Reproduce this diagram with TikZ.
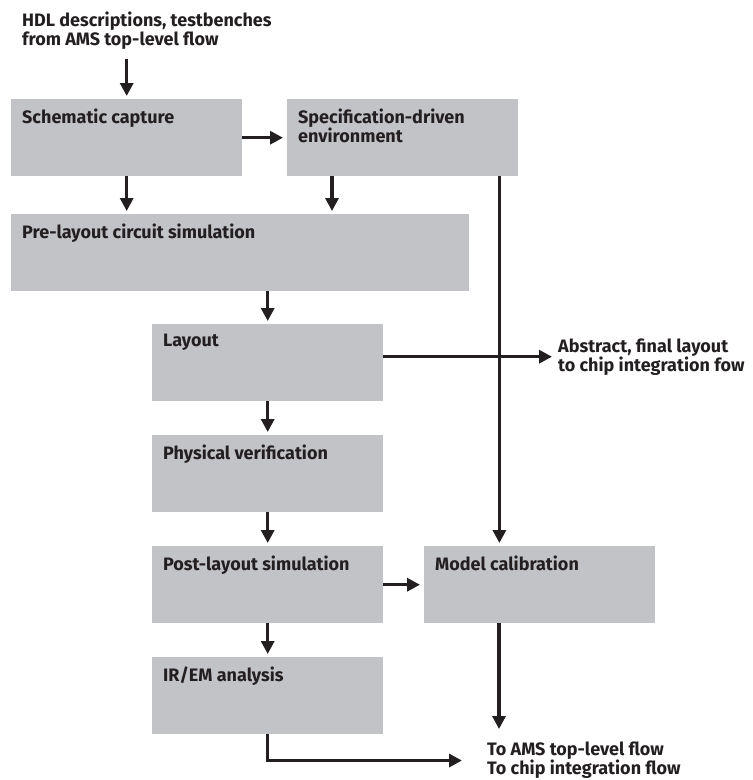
\documentclass[tikz,border=0pt]{standalone}
\usepackage{fontspec}
\setmainfont{Fira Sans}
\usetikzlibrary{arrows.meta, positioning}
\definecolor{boxgray}{RGB}{194,195,199}
\definecolor{ink}{RGB}{35,31,32}

\begin{document}
\begin{tikzpicture}[
    x=1pt, y=-1pt,
    font=\fontsize{18}{19}\selectfont\bfseries,
    text=ink,
    box/.style={fill=boxgray, anchor=north west, inner sep=0pt,
                minimum width=231pt, minimum height=77pt},
    boxtext/.style={anchor=north west, inner sep=0pt, align=left,
                    xshift=11pt, yshift=-10pt},
    note/.style={anchor=north west, inner sep=0pt, align=left},
    arr/.style={-{Triangle[length=13pt, width=13pt]}, line width=3.2pt,
                draw=ink, shorten >=3pt}]
    \useasboundingbox (0,0) rectangle (753,780);
    \node[note] (hdl) at (22,12) {HDL descriptions, testbenches\\from AMS top-level flow};
    \node[box, label={[boxtext]north west:Schematic capture}] (schem) at (11,99) {};
    \node[box, label={[boxtext]north west:Specification-driven\\environment}] (spec) at (287,99) {};
    \node[box, minimum width=458pt, label={[boxtext]north west:Pre-layout circuit simulation}] (pre) at (11,214) {};
    \node[box, label={[boxtext]north west:Layout}] (layout) at (152,324) {};
    \node[box, label={[boxtext]north west:Physical verification}] (phys) at (152,435) {};
    \node[box, label={[boxtext]north west:Post-layout simulation}] (post) at (152,546) {};
    \node[box, label={[boxtext]north west:IR/EM analysis}] (irem) at (152,657) {};
    \node[box, label={[boxtext]north west:Model calibration}] (model) at (424,546) {};
    \node[note] (abstract) at (558,339) {Abstract, final layout\\to chip integration fow};
    \node[note] (toams) at (487,742) {To AMS top-level flow\\To chip integration flow};
    \coordinate (specL) at ([xshift=45pt]spec.south west);
    \coordinate (specR) at ([xshift=-19pt]spec.south east);
    \coordinate (layoutR) at ([yshift=6pt]layout.east);
    \coordinate (modelL) at ([xshift=75pt]model.south west);
    \draw[arr, shorten <=9pt] (hdl.south -| schem.north) -- (schem.north);
    \draw[arr, shorten >=4pt] (schem.east) -- (spec.west);
    \draw[arr] (schem.south) -- (schem.south |- pre.north);
    \draw[arr] (specL) -- (specL |- pre.north);
    \draw[arr] (specR) -- (specR |- model.north);
    \draw[arr] (pre.south -| layout.north) -- (layout.north);
    \draw[arr] (layout) -- (phys);
    \draw[arr] (phys) -- (post);
    \draw[arr] (post) -- (irem);
    \draw[arr, shorten >=6pt] (layoutR) -- (layoutR -| abstract.west);
    \draw[arr, shorten >=4pt] (post.east) -- (post.east -| model.west);
    \draw[arr, shorten >=13pt] (modelL) -- (modelL |- toams.north);
    \draw[arr, shorten >=25pt] (irem.south) |- (toams.west);
\end{tikzpicture}
\end{document}
